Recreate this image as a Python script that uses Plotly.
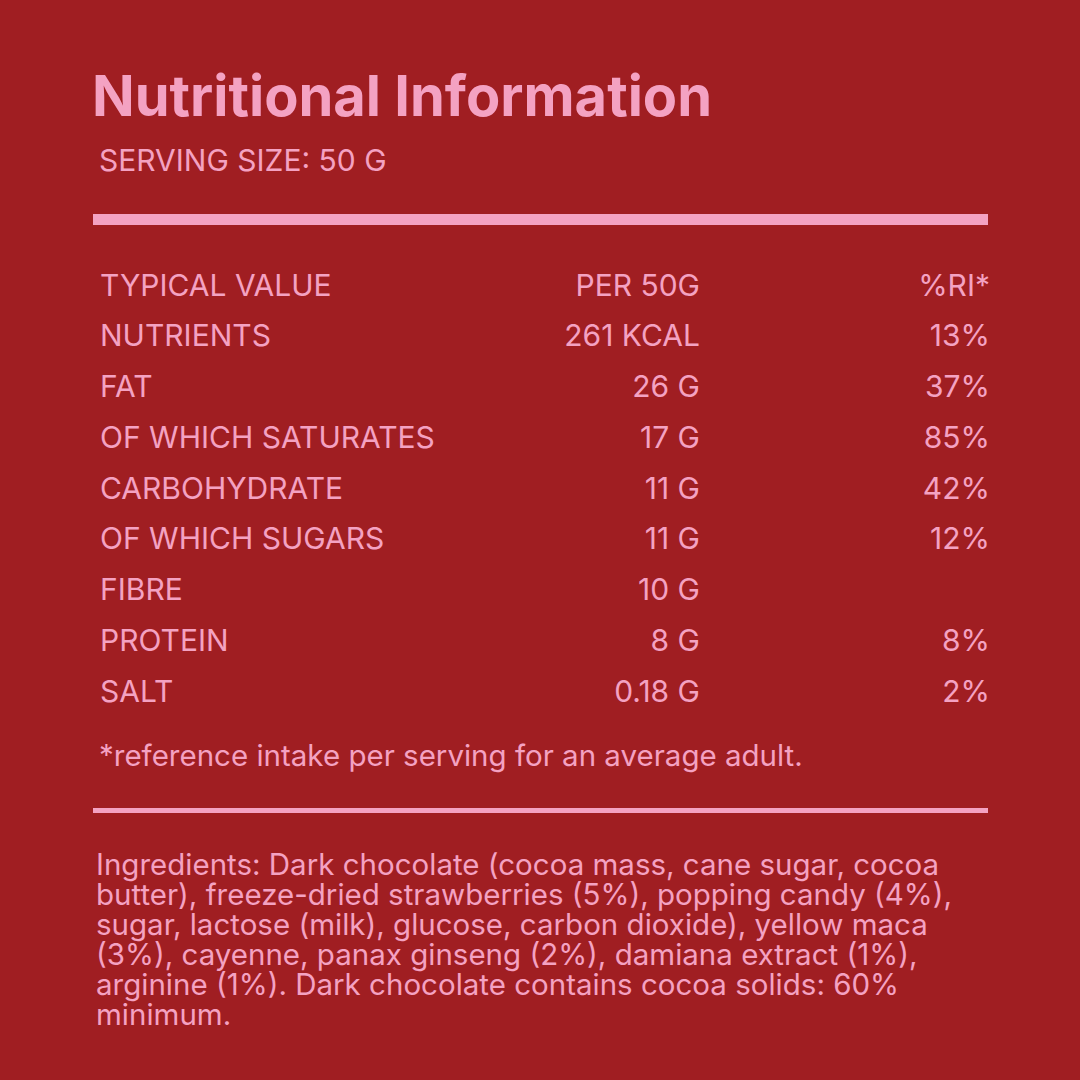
import plotly.graph_objects as go

#------Data------
nutrients = ["TYPICAL VALUE", "NUTRIENTS", "FAT", "OF WHICH SATURATES", "CARBOHYDRATE",
             "OF WHICH SUGARS", "FIBRE", "PROTEIN", "SALT"]
per_50g = ["PER 50G", "261 KCAL", "26 G", "17 G", "11 G", "11 G", "10 G", "8 G", "0.18 G"]
ri_pct = ["%RI*", "13%", "37%", "85%", "42%", "12%", "", "8%", "2%"]

title = "Nutritional Information"
serving = "SERVING SIZE: 50 G"
footnote = "*reference intake per serving for an average adult."
ingredients = [
    "Ingredients: Dark chocolate (cocoa mass, cane sugar, cocoa",
    "butter), freeze-dried strawberries (5%), popping candy (4%),",
    "sugar, lactose (milk), glucose, carbon dioxide), yellow maca",
    "(3%), cayenne, panax ginseng (2%), damiana extract (1%),",
    "arginine (1%). Dark chocolate contains cocoa solids: 60%",
    "minimum.",
]

#------Style------
bg = "#A01E22"
pink = "#F4A2C2"
font = "Inter"

row_y = [288 + i * 50.75 for i in range(len(nutrients))]

fig = go.Figure()

fig.add_trace(go.Scatter(
    x=[100] * len(nutrients), y=row_y, text=nutrients,
    mode="text", textposition="middle right",
    textfont=dict(family=font, size=30, color=pink),
    hoverinfo="skip", showlegend=False,
))
fig.add_trace(go.Scatter(
    x=[700] * len(per_50g), y=row_y, text=per_50g,
    mode="text", textposition="middle left",
    textfont=dict(family=font, size=30, color=pink),
    hoverinfo="skip", showlegend=False,
))
fig.add_trace(go.Scatter(
    x=[990] * len(ri_pct), y=row_y, text=ri_pct,
    mode="text", textposition="middle left",
    textfont=dict(family=font, size=30, color=pink),
    hoverinfo="skip", showlegend=False,
))

# title block
fig.add_annotation(x=90, y=96, xref="x", yref="y", text="<b>" + title + "</b>",
                   xanchor="left", yanchor="middle", showarrow=False,
                   font=dict(family=font, size=56, color=pink))
fig.add_annotation(x=97, y=160, xref="x", yref="y", text=serving,
                   xanchor="left", yanchor="middle", showarrow=False,
                   font=dict(family=font, size=30, color=pink))
fig.add_annotation(x=97, y=755, xref="x", yref="y", text=footnote,
                   xanchor="left", yanchor="middle", showarrow=False,
                   font=dict(family=font, size=29.5, color=pink))

# ingredients paragraph
for i, line in enumerate(ingredients):
    fig.add_annotation(x=94, y=864 + i * 30, xref="x", yref="y", text=line,
                       xanchor="left", yanchor="middle", showarrow=False,
                       font=dict(family=font, size=29.5, color=pink))

# rules
fig.add_shape(type="rect", x0=93, x1=988, y0=214, y1=225, xref="x", yref="y",
              fillcolor=pink, line=dict(width=0))
fig.add_shape(type="rect", x0=93, x1=988, y0=808, y1=813, xref="x", yref="y",
              fillcolor=pink, line=dict(width=0))

fig.update_layout(
    width=1080, height=1080,
    margin=dict(l=0, r=0, t=0, b=0),
    paper_bgcolor=bg, plot_bgcolor=bg,
    xaxis=dict(range=[0, 1080], visible=False, fixedrange=True),
    yaxis=dict(range=[1080, 0], visible=False, fixedrange=True),
)

fig.write_html("out.html", config={"displayModeBar": False},
               post_script="document.body.style.margin='0';document.body.style.overflow='hidden';")
